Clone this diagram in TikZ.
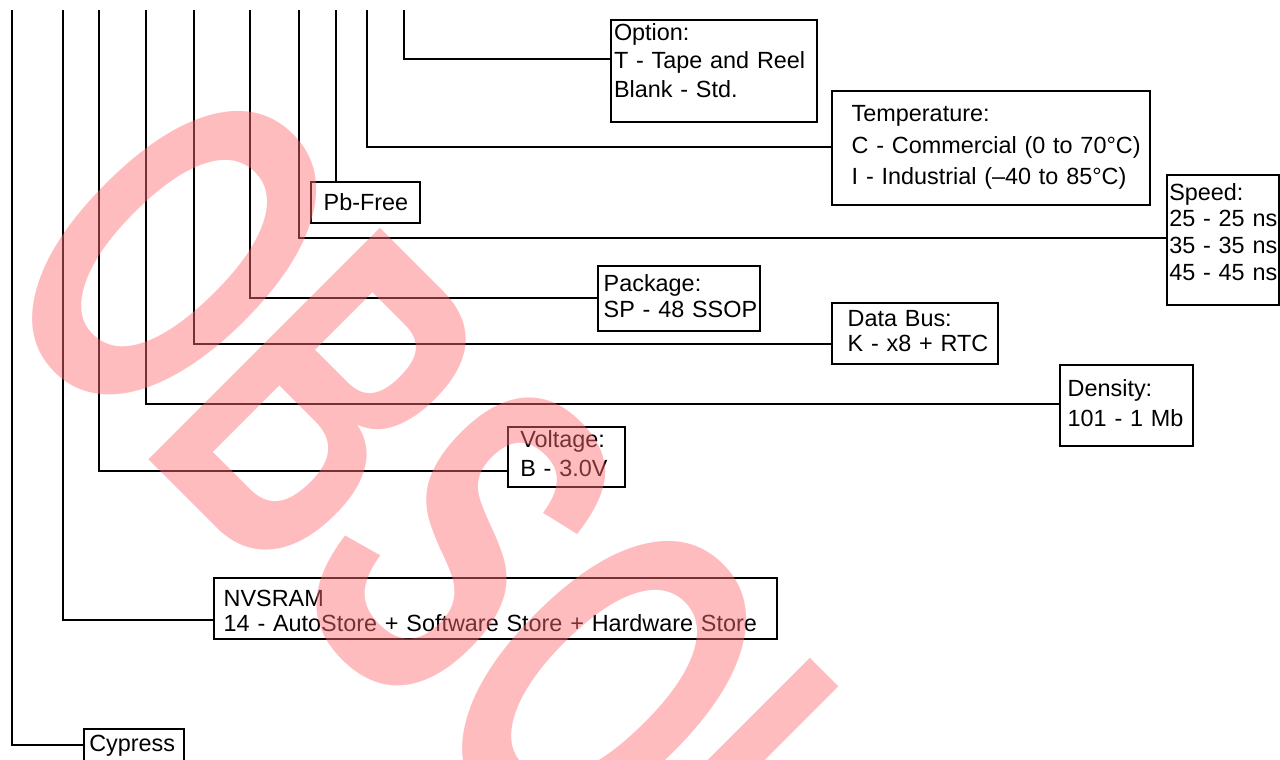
\documentclass[tikz,border=0pt]{standalone}
\usepackage{fontspec}
\setmainfont{Liberation Sans}
\usepackage{xcolor}
\usepackage{tikz}
\definecolor{stampred}{RGB}{255,108,114}
\newcommand{\partfont}[1]{\fontsize{11.7}{#1}\selectfont}
\tikzset{
  wire/.style={line width=1pt},
  part/.style={draw,line width=1pt,anchor=north west,align=left,inner ysep=0pt},
  stamp/.style={text=stampred,text opacity=0.46,inner sep=0pt,anchor=base west,
    font=\fontsize{238}{240}\selectfont\bfseries,rotate=-45,xscale=0.59}
}

\begin{document}
\begin{tikzpicture}[x=0.5pt,y=-0.5pt]
    \useasboundingbox (0,0) rectangle (1280,760);

    \node[part,inner xsep=1.75pt,text width=99.5pt,text height=10.15pt,text depth=40.7pt,font=\partfont{14.35pt}] (option) at (609.5,19) {Option:\\T - Tape and Reel\\Blank - Std.};
    \node[part,inner xsep=10pt,text width=139.3pt,text height=15.35pt,text depth=41.8pt,font=\partfont{15.65pt}] (temp) at (830.7,90) {Temperature:\\\mbox{C - Commercial (0 to 70°C)}\\\mbox{I - Industrial (–40 to 85°C)}};
    \node[part,inner xsep=6.35pt,text width=41.8pt,text height=14.15pt,text depth=6.35pt,font=\partfont{14pt}] (pbfree) at (310,181) {\mbox{Pb-Free}};
    \node[part,inner xsep=1.3pt,text width=53.7pt,text height=12.65pt,text depth=52.35pt,font=\partfont{13.3pt}] (speed) at (1165.7,174) {Speed:\\\mbox{25 - 25 ns}\\\mbox{35 - 35 ns}\\\mbox{45 - 45 ns}};
    \node[part,inner xsep=2.7pt,text width=75.6pt,text height=12.85pt,text depth=19.65pt,font=\partfont{13pt}] (package) at (597.3,265) {Package:\\\mbox{SP - 48 SSOP}};
    \node[part,inner xsep=7.85pt,text width=67.15pt,text height=11.65pt,text depth=18.85pt,font=\partfont{12.5pt}] (databus) at (831,301.7) {Data Bus:\\\mbox{K - x8 + RTC}};
    \node[part,inner xsep=3.85pt,text width=58.95pt,text height=15.5pt,text depth=25pt,font=\partfont{15pt}] (density) at (1059,364) {Density:\\101 - 1 Mb};
    \node[part,inner xsep=6.3pt,text width=46.2pt,text height=10.5pt,text depth=19.65pt,font=\partfont{14.5pt}] (voltage) at (506.7,425.7) {Voltage:\\B - 3.0V};
    \node[part,inner xsep=4.7pt,text width=271.95pt,text height=13.85pt,text depth=16.65pt,font=\partfont{12.5pt}] (nvsram) at (213.3,577.3) {NVSRAM\\14 - AutoStore + Software Store + Hardware Store};
    \node[part,inner xsep=2.5pt,text width=45pt,text height=10.85pt,text depth=12.5pt,font=\partfont{14pt}] (cypress) at (83.3,728.3) {Cypress};

    % one column per field of the part number
    \foreach \x/\id in {12/cyp,63/nvs,99/volt,146/dens,194/bus,250/pkg,299/spd,336/pb,367/tmp,404/opt}
        \coordinate (top\id) at (\x,10);

    \draw[wire] (topcyp) |- ([yshift=3.7pt]cypress.west);
    \draw[wire] (topnvs) |- ([yshift=-5.75pt]nvsram.west);
    \draw[wire] (topvolt) |- ([yshift=-6.9pt]voltage.west);
    \draw[wire] (topdens) |- ([yshift=0.9pt]density.west);
    \draw[wire] (topbus) |- ([yshift=-5.4pt]databus.west);
    \draw[wire] (toppkg) |- ([yshift=0.4pt]package.west);
    \draw[wire] (topspd) |- ([yshift=1.15pt]speed.west);
    \draw[wire] (toppb) -- (toppb |- pbfree.north);
    \draw[wire] (toptmp) |- ([yshift=0.73pt]temp.west);
    \draw[wire] (topopt) |- ([yshift=5.93pt]option.west);

    \node[stamp] (obsolete) at (-19,292) {OBSOLETE};
\end{tikzpicture}
\end{document}
